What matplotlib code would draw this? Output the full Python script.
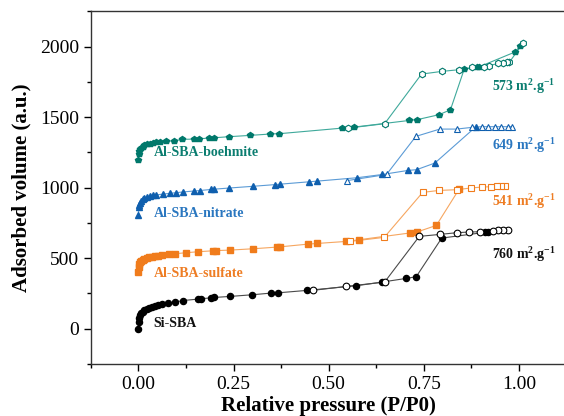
import matplotlib
matplotlib.use("Agg")
import matplotlib.pyplot as plt
from matplotlib.ticker import MultipleLocator

plt.rcParams["font.family"] = ["Liberation Serif", "DejaVu Serif"]
plt.rcParams["mathtext.default"] = "regular"

# ---- Si-SBA (offset 0) ----
si_ads_x = [0.0, 0.001, 0.002, 0.004, 0.007, 0.011, 0.016, 0.022, 0.028, 0.035, 0.043, 0.052,
            0.062, 0.077, 0.095, 0.117, 0.156, 0.165, 0.191, 0.20, 0.24, 0.299, 0.349, 0.368,
            0.443, 0.573, 0.640, 0.704, 0.730, 0.797, 0.912, 0.918]
si_ads_y = [0, 50, 75, 95, 110, 122, 133, 143, 150, 157, 163, 168,
            172, 182, 188, 200, 210, 212, 220, 222, 229, 241, 253, 255,
            272, 305, 331, 357, 369, 643, 684, 686]
si_des_x = [0.970, 0.959, 0.946, 0.932, 0.897, 0.869, 0.836, 0.792, 0.738, 0.647, 0.545, 0.458]
si_des_y = [702, 700, 697, 695, 688, 686, 681, 669, 655, 331, 300, 272]

# ---- Al-SBA-sulfate ----
su_ads_x = [0.0, 0.001, 0.002, 0.004, 0.007, 0.011, 0.016, 0.022, 0.028, 0.035, 0.043, 0.052,
            0.062, 0.080, 0.096, 0.125, 0.156, 0.197, 0.203, 0.242, 0.300, 0.364, 0.373,
            0.445, 0.470, 0.545, 0.579, 0.713, 0.732, 0.783, 0.843]
su_ads_y = [400, 440, 460, 472, 482, 490, 497, 503, 508, 512, 516, 519,
            522, 527, 532, 539, 546, 553, 554, 558, 567, 579, 581,
            600, 605, 619, 631, 679, 686, 733, 991]
su_des_x = [0.963, 0.953, 0.941, 0.926, 0.903, 0.873, 0.836, 0.790, 0.747, 0.646, 0.555]
su_des_y = [1014, 1012, 1009, 1007, 1005, 998, 986, 981, 967, 648, 619]

# ---- Al-SBA-nitrate ----
ni_ads_x = [0.0, 0.001, 0.002, 0.004, 0.007, 0.011, 0.016, 0.022, 0.030, 0.038, 0.045, 0.064,
            0.082, 0.099, 0.117, 0.147, 0.161, 0.191, 0.200, 0.239, 0.300, 0.358, 0.371,
            0.448, 0.470, 0.575, 0.641, 0.709, 0.731, 0.779, 0.887]
ni_ads_y = [805, 860, 880, 895, 908, 918, 927, 934, 940, 945, 948, 955,
            960, 965, 970, 977, 980, 988, 990, 998, 1010, 1022, 1025,
            1042, 1047, 1071, 1094, 1123, 1128, 1175, 1433]
ni_des_x = [0.981, 0.970, 0.954, 0.937, 0.919, 0.902, 0.876, 0.836, 0.792, 0.729, 0.652, 0.547]
ni_des_y = [1433, 1433, 1433, 1433, 1433, 1433, 1428, 1416, 1416, 1364, 1094, 1050]

# ---- Al-SBA-boehmite ----
bo_ads_x = [0.0, 0.001, 0.002, 0.004, 0.007, 0.011, 0.016, 0.022, 0.030, 0.038, 0.046, 0.056,
            0.073, 0.093, 0.115, 0.146, 0.160, 0.185, 0.198, 0.238, 0.292, 0.347, 0.369,
            0.536, 0.567, 0.711, 0.731, 0.790, 0.820, 0.856, 0.889, 0.896, 0.989, 1.003]
bo_ads_y = [1196, 1240, 1258, 1272, 1283, 1292, 1300, 1307, 1313, 1318, 1321, 1325,
            1328, 1333, 1343, 1345, 1347, 1352, 1354, 1362, 1371, 1381, 1383,
            1423, 1430, 1477, 1482, 1518, 1553, 1840, 1856, 1858, 1962, 2002]
bo_des_x = [1.011, 0.975, 0.968, 0.959, 0.946, 0.921, 0.908, 0.877, 0.842, 0.797, 0.744, 0.647, 0.551]
bo_des_y = [2026, 1891, 1889, 1887, 1884, 1863, 1858, 1853, 1837, 1825, 1806, 1454, 1423]

SERIES = [
    # ads_x, ads_y, des_x, des_y, marker, marker colour, line colour
    (si_ads_x, si_ads_y, si_des_x, si_des_y, "o", "#000000", "#4a4a4a"),
    (su_ads_x, su_ads_y, su_des_x, su_des_y, "s", "#f07c1c", "#f6a660"),
    (ni_ads_x, ni_ads_y, ni_des_x, ni_des_y, "^", "#0f5fae", "#5b9bd6"),
    (bo_ads_x, bo_ads_y, bo_des_x, bo_des_y, "p", "#00786b", "#3fa99b"),
]

NAMES = ["Si-SBA", "Al-SBA-sulfate", "Al-SBA-nitrate", "Al-SBA-boehmite"]
NAME_Y = [40, 390, 815, 1250]
AREAS = ["760 m$^{2}$.g$^{-1}$", "541 m$^{2}$.g$^{-1}$", "649 m$^{2}$.g$^{-1}$", "573 m$^{2}$.g$^{-1}$"]
AREA_Y = [525, 905, 1300, 1715]
TEXT_COLORS = ["#111111", "#ee7d24", "#2a77c0", "#0b7d70"]

fig = plt.figure(figsize=(5.64, 4.16), dpi=100)
ax = fig.add_axes([0.161, 0.125, 0.8435, 0.8474])

for ax_x, ax_y, dx, dy, mk, mc, lc in SERIES:
    open_mk = "h" if mk == "p" else mk
    ax.plot(ax_x, ax_y, "-", color=lc, lw=0.8, zorder=2)
    ax.plot(dx, dy, "-", color=lc, lw=0.8, zorder=2)
    ax.plot(ax_x, ax_y, ls="none", marker=mk, ms=4.4, color=mc, mec=mc, zorder=3)
    ax.plot(dx, dy, ls="none", marker=open_mk, ms=4.8, mfc="white", mec=mc, mew=0.8, zorder=4)

for name, ny, area, ay, tc in zip(NAMES, NAME_Y, AREAS, AREA_Y, TEXT_COLORS):
    ax.text(0.04, ny, name, color=tc, fontsize=10, fontweight="bold", ha="left", va="center")
    ax.text(0.93, ay, area, color=tc, fontsize=10, fontweight="bold", ha="left", va="center")

ax.set_xlim(-0.125, 1.125)
ax.set_ylim(-250, 2250)
ax.xaxis.set_major_locator(MultipleLocator(0.25))
ax.xaxis.set_minor_locator(MultipleLocator(0.125))
ax.yaxis.set_major_locator(MultipleLocator(500))
ax.yaxis.set_minor_locator(MultipleLocator(250))
ax.xaxis.set_major_formatter(plt.FuncFormatter(lambda v, _: f"{v:.2f}"))
ax.tick_params(which="both", direction="out", top=False, right=False, labelsize=14, width=1.0)
ax.tick_params(which="major", length=5)
ax.tick_params(which="minor", length=3)
for s in ax.spines.values():
    s.set_linewidth(1.0)
    s.set_color("#333333")

ax.set_xlabel("Relative pressure (P/P0)", fontsize=15, fontweight="bold", labelpad=2)
ax.set_ylabel("Adsorbed volume (a.u.)", fontsize=15, fontweight="bold", labelpad=6)

fig.savefig("out.png", dpi=100)
